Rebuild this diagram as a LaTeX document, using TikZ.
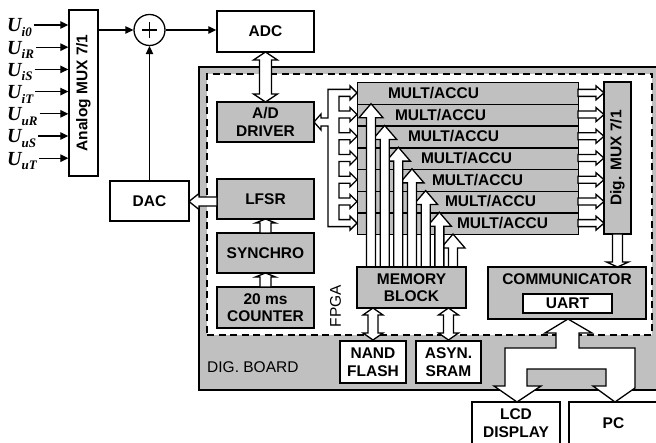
\documentclass[tikz,border=0pt]{standalone}
\usepackage{fontspec}
\setmainfont{Liberation Sans}
\newfontfamily\tnr{Liberation Serif}
\usetikzlibrary{arrows.meta}
\definecolor{boxgray}{RGB}{192,192,192}
\newcommand\bfnt{\fontsize{15.5}{17.5}\selectfont\bfseries}
\newcommand\rgfnt{\fontsize{15.5}{17.5}\selectfont}
% hollow arrows: horizontal (tail x, head base x, tip x, y, shaft hw, head hw)
\newcommand\harr[6]{\filldraw[hol] (#1,#4-#5) -- (#2,#4-#5) -- (#2,#4-#6) -- (#3,#4) -- (#2,#4+#6) -- (#2,#4+#5) -- (#1,#4+#5) -- cycle;}
% vertical (tail y, head base y, tip y, x, shaft hw, head hw)
\newcommand\varr[6]{\filldraw[hol] (#4-#5,#1) -- (#4-#5,#2) -- (#4-#6,#2) -- (#4,#3) -- (#4+#6,#2) -- (#4+#5,#2) -- (#4+#5,#1) -- cycle;}
% vertical double (tip1 y, base1 y, base2 y, tip2 y, x, shaft hw, head hw)
\newcommand\vdbl[7]{\filldraw[hol] (#5,#1) -- (#5+#7,#2) -- (#5+#6,#2) -- (#5+#6,#3) -- (#5+#7,#3) -- (#5,#4) -- (#5-#7,#3) -- (#5-#6,#3) -- (#5-#6,#2) -- (#5-#7,#2) -- cycle;}
\tikzset{
  gbox/.style={draw, line width=1.4pt, fill=boxgray, font=\bfnt, align=center, inner sep=0pt},
  wbox/.style={gbox, fill=white},
  hol/.style={draw, fill=white, line width=1.3pt, line join=miter},
  conn/.style={line width=1.3pt, -{Triangle[length=8pt,width=7.5pt]}},
  ulabel/.style={inner xsep=2pt, inner ysep=0pt, anchor=base west},
}
\begin{document}
\begin{tikzpicture}[x=1pt,y=-1pt]
\useasboundingbox (0,0) rectangle (656,443);

% ---- board and FPGA area
\node[draw, line width=1.4pt, fill=boxgray, minimum width=461, minimum height=323, inner sep=0pt] (board) at (429.5,228.5) {};
\node[draw, dash pattern=on 7pt off 4.5pt, line width=1.4pt, fill=white, minimum width=445, minimum height=261, inner sep=0pt] (fpga) at (429.5,204.5) {};
\node[font=\rgfnt, anchor=west, inner sep=0pt] (digboard) at (207,367.5) {DIG. BOARD};
\node[font=\rgfnt, rotate=90, inner sep=0pt] (fpgalabel) at (335.5,306) {FPGA};

% ---- analog front end
\node[wbox, minimum width=29, minimum height=166] (mux) at (83.5,93) {};
\node[font=\bfnt, rotate=90] (muxtext) at (mux.center) {Analog MUX 7/1};
\node[circle, draw, line width=1.3pt, minimum size=31, inner sep=0pt] (sum) at (149.5,30) {};
\draw[line width=1.1pt] (sum.center) ++(-7.5,0) -- ++(15,0);
\draw[line width=1.1pt] (sum.center) ++(0,-8) -- ++(0,16);
\node[wbox, minimum width=97, minimum height=41] (adc) at (265.5,31.5) {ADC};
\node[wbox, minimum width=79, minimum height=40] (dac) at (149.5,201) {DAC};

\foreach \i/\s in {1/i0,2/iR,3/iS,4/iT,5/uR,6/uS,7/uT} {
  \pgfmathsetmacro\yy{25+22.2*(\i-1)}
  \coordinate (a\i) at (0,\yy);
  \node[ulabel] (u\i) at (5,\yy+7) {\tnr\bfseries\itshape\fontsize{20}{20}\selectfont U\raisebox{-4.5pt}{\fontsize{13}{13}\selectfont\s}};
  \draw[conn] (u\i.east |- a\i) -- (mux.west |- a\i);
}
\draw[conn] (mux.east |- sum.west) -- (sum.west);
\draw[conn] (sum.east) -- (sum.east -| adc.west);
\draw[conn] (dac.north) -- (sum.south);

% ---- left column in FPGA
\node[gbox, minimum width=97, minimum height=40] (addrv) at (265.5,122) {A/D\\DRIVER};
\node[gbox, minimum width=97, minimum height=40] (lfsr) at (265.5,199) {LFSR};
\node[gbox, minimum width=97, minimum height=40] (sync) at (265.5,253) {SYNCHRO};
\node[gbox, minimum width=97, minimum height=41] (cnt) at (265.5,307.5) {20 ms\\COUNTER};

\vdbl{52}{60}{94}{102}{265.5}{6}{12}
\varr{233}{223}{219}{265.5}{5.5}{10}
\varr{287}{277}{273}{265.5}{5.5}{10}
\harr{217}{199}{189}{201.5}{4.5}{8}

% ---- MULT/ACCU rows
\foreach \i in {1,...,7} {
  \node[gbox, minimum width=221, minimum height=21.714, anchor=north west] (r\i) at (357,{82+21.714*(\i-1)}) {};
}
\foreach \i/\x in {1/433.5,2/440.5,3/453.5,4/466.5,5/477.5,6/490.5,7/502.5} {
  \node[font=\bfnt, inner sep=0pt] (rt\i) at (\x,{82+21.714*(\i-0.5)}) {MULT/ACCU};
}
% up arrows from memory block
\foreach \i in {7,6,...,1} {
  \pgfmathsetmacro\ax{371+13.67*(\i-1)}
  \pgfmathsetmacro\ty{82+21.714*\i}
  \pgfmathsetmacro\hb{\ty+14}
  \varr{267}{\hb}{\ty}{\ax}{4.5}{12}
}
\node[gbox, minimum width=109, minimum height=41] (mem) at (411.5,287.5) {MEMORY\\BLOCK};

% left bus to rows and A/D driver
\filldraw[hol] (328,89.36)
  \foreach \c in {92.86,114.57,136.29,158,179.71,201.43,223.14} {
    -- (339,\c-3.5) -- (350,\c-3.5) -- (350,\c-7) -- (357,\c) -- (350,\c+7) -- (350,\c+3.5) -- (339,\c+3.5)
  }
  -- (328,226.64) -- (328,126) -- (321,126) -- (321,130) -- (314,122) -- (321,114) -- (321,118) -- (328,118) -- cycle;

% right outputs to Dig. MUX
\node[gbox, minimum width=27, minimum height=152] (dmux) at (617.5,158) {};
\node[font=\bfnt, rotate=90] (dmuxtext) at (dmux.center) {Dig. MUX 7/1};
\foreach \i in {1,...,7} {
  \pgfmathsetmacro\cy{82+21.714*(\i-0.5)}
  \harr{578}{596}{604}{\cy}{3.5}{7}
}

% ---- communicator
\node[gbox, minimum width=158, minimum height=52] (comm) at (567,293) {};
\node[font=\bfnt, inner sep=0pt] (commtext) at (567,279) {COMMUNICATOR};
\node[wbox, minimum width=89, minimum height=19] (uart) at (567.5,303.5) {UART};
\varr{234}{262}{267}{617.5}{5}{11}

% ---- memories
\node[wbox, minimum width=66, minimum height=42] (nand) at (373,362) {NAND\\FLASH};
\node[wbox, minimum width=65, minimum height=42] (sram) at (448.5,362) {ASYN.\\SRAM};
\vdbl{308}{315}{333}{340}{373}{5}{10}
\vdbl{308}{315}{333}{340}{448.5}{5}{10}

% ---- outputs
\node[wbox, minimum width=88, minimum height=42] (lcd) at (516,423) {LCD\\DISPLAY};
\node[wbox, minimum width=89, minimum height=42] (pc) at (613.5,423) {PC};
\filldraw[hol] (568,319) -- (592,333) -- (579,333) -- (579,348) -- (635,348) -- (635,388)
  -- (615,402) -- (593,386) -- (606,386) -- (606,369) -- (527,369) -- (527,386) -- (541,386)
  -- (517,402) -- (494,386) -- (505,386) -- (505,348) -- (556,348) -- (556,333) -- (545,333) -- cycle;
\end{tikzpicture}
\end{document}
